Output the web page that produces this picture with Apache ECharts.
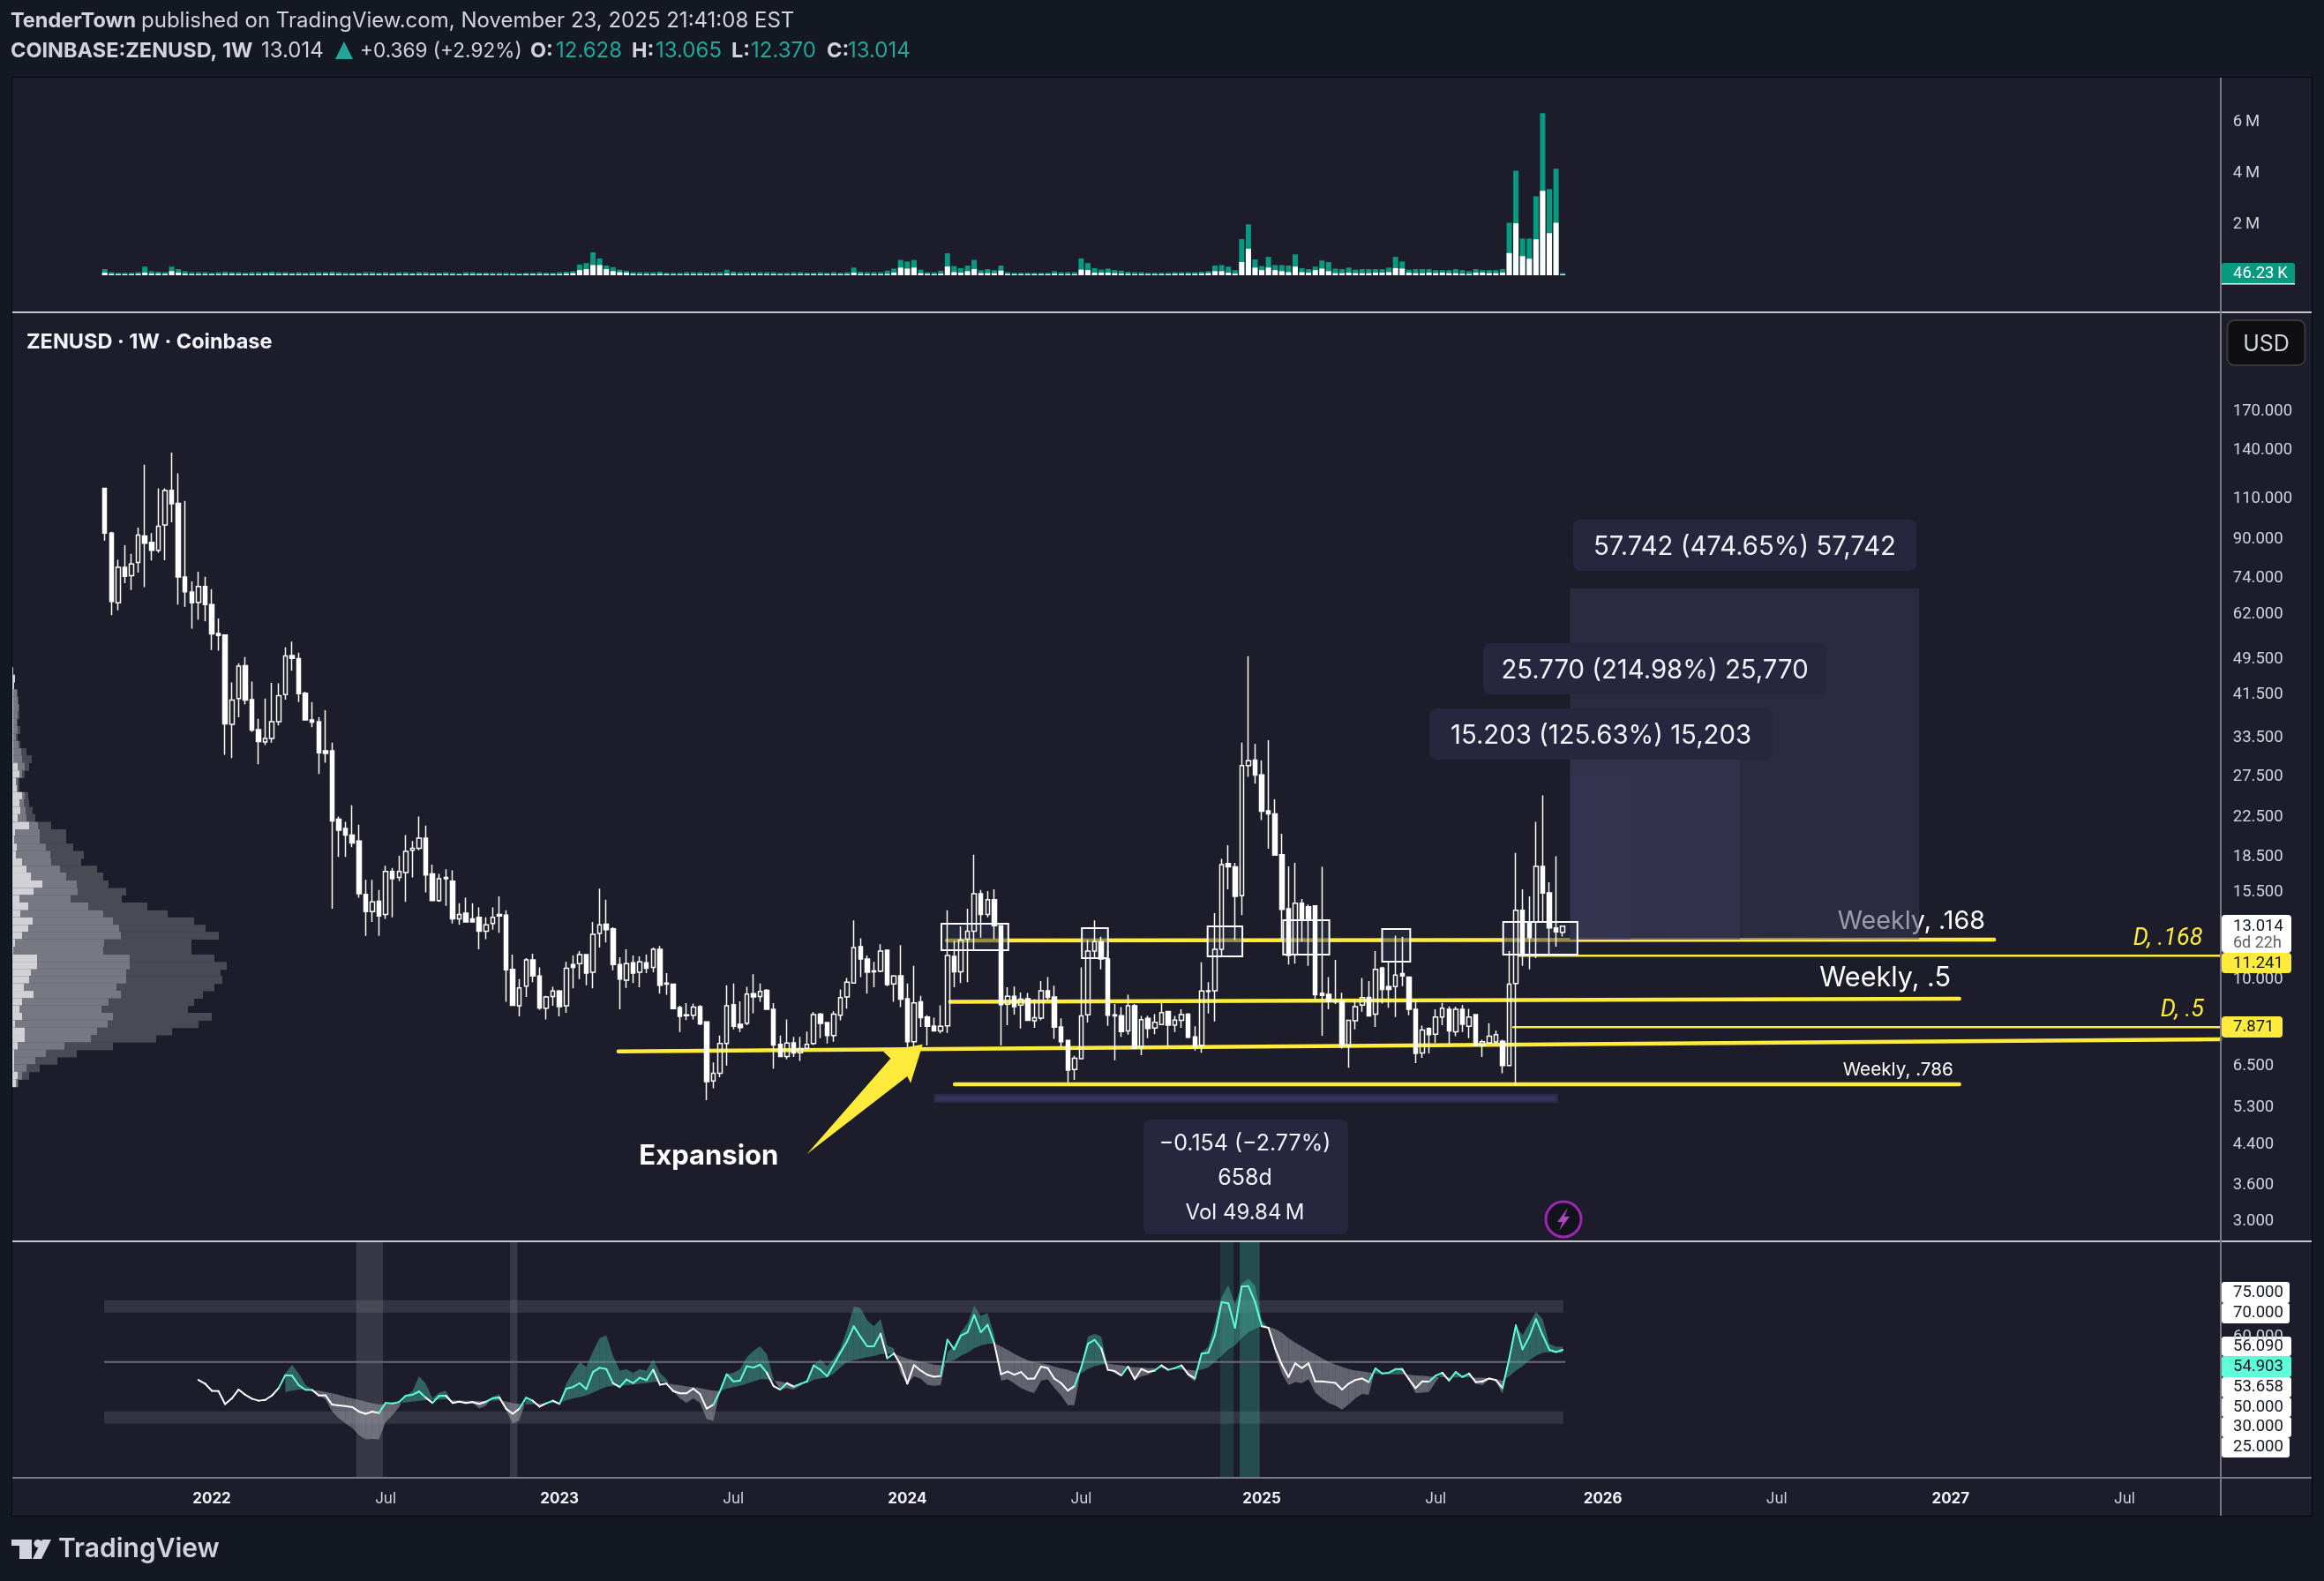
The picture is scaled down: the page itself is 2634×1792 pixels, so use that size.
<!DOCTYPE html>
<html>
<head>
<meta charset="utf-8">
<title>ZENUSD</title>
<style>
  html, body { margin: 0; padding: 0; background: #131823; }
  #chart { width: 2634px; height: 1792px; }
</style>
<script src="https://cdn.jsdelivr.net/npm/echarts@6/dist/echarts.min.js"></script>
</head>
<body>
<div id="chart"></div>
<script>
// weekly candles, index 0 is the first bar on the chart
var opens = [
  115.5,92.4,65.3,77.9,74.7,79.8,91.1,88.2,84.8,96.2,
  114.4,107.2,74.2,68.9,65.4,70.8,64.7,56,55.6,35.6,
  40.5,47.7,40.3,34.7,32.6,33.2,36.1,41.3,50.2,49.4,
  41.6,36.4,36.1,31.2,31.2,22.2,21.2,20.5,19.9,15.25,
  14,14.75,13.8,17.1,16.6,17,19,19.2,20.2,16.9,
  14.8,16.6,16.3,13.5,13.9,13.5,13.6,12.7,13.2,13.8,
  13.75,10.5,8.75,9.65,11,10.15,8.65,9.17,9.42,8.75,
  10.75,10.8,11.3,10.35,12.55,13.15,12.85,10.75,9.95,10.85,
  10.35,10.85,10.6,11.6,9.8,9.75,8.68,8.37,8.35,8.72,
  8.08,6.02,6.25,7.25,8.8,7.98,8.03,9.3,9.17,9.45,
  8.6,7.22,6.8,7.28,6.93,7.08,7.25,8.4,8.05,7.55,
  8.35,9.15,9.8,11.75,11.05,10.42,10.4,11.55,9.76,10.17,
  9.07,7.32,8.93,8.28,7.91,7.72,7.92,11.2,10.37,12.2,
  12.7,15.3,13.8,14.85,13.05,8.82,9.18,8.78,9.07,8.12,
  8.23,9.43,9.15,7.88,7.37,6.37,6.72,8.37,11.5,12.05,
  11.05,8.37,8.33,7.72,8.75,7.12,8.22,7.83,7.97,8.51,
  7.95,8.14,8.4,7.5,7.18,9.43,9.43,11.6,17.8,17.5,
  15.15,29,29.8,27.7,23.15,22.8,18.6,14.2,11.3,14.6,
  14.35,14.4,9.32,9.27,8.98,8.95,7.17,8.12,8.78,9.13,
  8.4,10.57,9.63,9.63,10.28,10.1,8.6,6.92,7.82,7.6,
  8.28,8.6,7.69,8.6,7.9,8.38,7.18,7.28,7.31,7.33,
  6.5,9.78,14.1,13.3,13.3,17.55,15.37,12.9,12.628
];
var highs = [
  115.5,93,80.9,87,83.3,95,130,92.4,115.5,115.5,
  138,124.5,108.5,72.6,76.2,74.3,69.9,60.4,55.6,43.9,
  48.3,49.8,44.1,36.6,40.5,43.8,43.7,52.3,53.8,50.9,
  41.9,39.8,36.9,38.2,32.5,22.5,21.9,23.8,21.6,16.4,
  16.4,15.6,17.6,17.4,18.5,20.5,19.9,22.5,21.5,17.7,
  16.9,17.3,17.2,14.6,15,14.6,14.3,13.6,14.3,15.1,
  14.1,11.3,10,11.1,11.35,10.6,9.2,9.62,9.48,10.9,
  11.25,11.5,11.3,13.3,15.7,14.85,12.95,11.15,11.6,11.25,
  11.2,11.3,11.7,11.8,10.3,9.78,8.75,8.87,8.85,8.78,
  8.08,6.6,7.55,9.7,9.78,8.95,9.62,10.25,9.78,9.52,
  8.87,7.55,8.18,7.5,7.5,7.7,8.49,8.45,8.08,8.52,
  9.5,10.05,13.4,12.25,11.25,10.9,11.9,11.6,10.2,11.85,
  9.78,10.68,9.2,8.35,8.25,8.77,14.1,12.1,13,14.2,
  18.6,15.6,15.5,15.65,13.05,9.6,9.63,9.35,9.33,9.05,
  9.9,10.1,9.68,8.22,7.39,6.82,10.6,12.15,13.4,12.35,
  11.5,8.83,8.7,9.25,8.83,8.32,8.33,8.4,8.87,8.54,
  8.32,8.6,8.44,7.9,10.87,9.85,13.9,18.2,19.5,17.85,
  32.5,50,32.3,29.75,32.9,24.5,20.65,17.55,17.85,14.9,
  14.5,14.4,17.5,10.1,11,9.34,8.16,9.02,10.05,9.9,
  11.5,10.63,10.9,12.42,12.35,10.1,9.02,7.93,7.86,8.6,
  8.88,8.73,8.72,8.78,8.62,8.4,7.39,8.03,7.73,7.39,
  11.5,18.75,15.65,15.1,21.9,25,16.2,18.45,13.065
];
var lows = [
  89,61.4,62.9,72,69.6,75.9,70.6,80.6,83.8,80.7,
  97.5,64.7,64,57.4,60,59.5,51.6,51.4,30.6,30.1,
  36.9,39.3,34.3,29.2,32.1,32.5,35.4,40.3,46.5,39.8,
  36.4,35.1,27.8,29.4,14.2,18.4,18.4,19.3,15,12.4,
  13.3,12.4,13.5,13.6,16.3,14.7,16.6,19,15.4,14.8,
  14.7,14.4,13.2,13.1,13.3,13.3,11.6,12.2,12.8,12.6,
  8.93,8.77,8.3,9.15,9.85,8.58,8.18,8.75,8.3,8.45,
  9.55,10,9.7,9.55,11.7,12,10.45,8.6,9.57,9.8,
  9.6,10.3,10.35,9.3,9.25,8.63,7.68,8.15,8.18,7.95,
  5.47,5.8,6.13,6.5,7.78,7.68,7.95,8.43,8.93,8.58,
  6.4,6.8,6.7,6.78,6.65,7.05,7.2,7.45,7.25,7.32,
  8.14,8.63,9.78,10.1,9.3,9.6,10.35,9.65,8.93,8.7,
  6.87,6.67,7.88,7.18,7.72,7.63,7.65,9.6,9.8,9.85,
  11.6,12.3,13.6,12.2,7.18,7.95,8.38,7.82,8.14,7.84,
  8.14,9.02,7.42,7.1,5.98,6.05,6.7,8.05,11.05,10.5,
  7.92,6.67,7.5,7.58,7.07,6.84,7.45,7.6,7.95,7.12,
  7.68,7.84,7.45,7,6.93,8.42,8.1,11.15,15.65,12.15,
  13.75,27.4,26.5,22.1,19.15,18.5,12.2,10.75,10.8,12.05,
  10.68,9,7.54,8.6,8.83,7.07,6.43,7.78,8.5,8.3,
  7.88,8.85,8.67,8.28,9.65,8.35,6.58,6.75,6.9,7.28,
  7.95,7.24,7.52,7.68,7.45,7.18,6.78,7.27,7.18,6.25,
  6.5,5.89,10.68,10.5,11.1,13.3,11.25,11.75,12.37
];
var closes = [
  92.4,65.7,77.9,74.5,79.2,91.5,87.8,84.8,95.6,114.2,
  107,74.2,69,65.3,70.8,64.7,55.9,55.5,35.7,40.2,
  47.6,40.2,34.6,32.7,33.2,36.1,41.1,50.1,49.5,41.5,
  36.4,36,30.9,30.8,22,21,20.5,19.7,15.3,14,
  14.7,13.7,17.1,16.5,17.1,18.9,19.2,20.2,16.8,14.8,
  16.5,16.5,13.5,13.8,13.3,13.3,12.7,13.1,13.6,13.7,
  10.47,8.77,9.57,11,10.15,8.66,9.15,9.42,8.72,10.55,
  10.6,11.3,10.3,12.5,13.1,12.8,10.75,10,10.8,10.3,
  10.9,10.55,11.6,9.7,9.75,8.63,8.3,8.33,8.7,8,
  6,6.25,7.25,8.75,7.9,7.85,9.28,9.15,9.4,8.6,
  7.2,6.8,7.27,6.92,7.07,7.22,8.38,8.02,7.55,8.4,
  9.12,9.85,11.7,11.05,10.35,10.37,11.5,9.73,10.15,9.05,
  7.32,8.88,8.25,7.9,7.72,7.9,11.25,10.37,12.15,12.7,
  15.3,13.8,14.85,13.05,8.8,9.18,8.72,9.05,8.14,8.25,
  9.43,9.13,7.87,7.32,6.35,6.74,8.32,11.5,12.05,11.05,
  8.35,8.32,7.7,8.75,7.08,8.17,7.82,8.06,8.46,7.95,
  8.15,8.38,7.48,7.13,9.42,9.4,11.6,17.7,17.5,15.1,
  29,29.7,27.65,23.1,22.8,18.55,14.15,11.25,14.6,13.45,
  13.45,9.25,9.22,8.95,8.93,7.18,8.14,8.72,9.12,8.32,
  10.5,9.5,9.5,10.2,10.15,8.6,6.9,7.76,7.58,8.28,
  8.65,7.72,8.6,7.98,8.28,7.19,7.32,7.52,7.58,6.5,
  9.75,14.1,11.25,12.3,17.55,15.35,12.9,12.65,13.014
];

// volume in millions, whole bar and its white lower part
var volTotal = [
  .24,.12,.10,.10,.10,.12,.34,.16,.14,.12,
  .34,.24,.16,.12,.12,.12,.10,.12,.14,.12,
  .12,.10,.12,.12,.12,.14,.12,.12,.10,.12,
  .10,.12,.12,.12,.14,.12,.10,.10,.10,.12,
  .12,.10,.12,.10,.12,.12,.10,.12,.12,.10,
  .10,.12,.10,.08,.12,.12,.10,.10,.10,.10,
  .10,.10,.08,.10,.10,.12,.10,.10,.12,.14,
  .16,.42,.48,.90,.66,.38,.32,.22,.18,.12,
  .12,.12,.12,.14,.10,.10,.10,.12,.12,.12,
  .10,.12,.12,.22,.14,.12,.12,.12,.12,.12,
  .12,.10,.10,.12,.12,.10,.10,.12,.10,.12,
  .10,.12,.30,.14,.12,.12,.12,.18,.26,.60,
  .54,.60,.22,.12,.12,.18,.86,.36,.28,.38,
  .60,.20,.24,.20,.38,.12,.10,.10,.10,.10,
  .10,.10,.16,.12,.12,.12,.66,.48,.28,.22,
  .26,.20,.18,.14,.12,.12,.10,.10,.10,.10,
  .12,.12,.12,.12,.14,.16,.38,.40,.34,.20,
  1.42,2.00,.62,.36,.72,.40,.40,.38,.82,.28,
  .24,.34,.58,.52,.26,.24,.30,.22,.24,.24,
  .24,.24,.30,.72,.54,.22,.24,.24,.24,.20,
  .20,.20,.24,.20,.16,.24,.20,.20,.20,.24,
  2.06,4.10,1.44,1.44,3.10,6.36,3.38,4.18,.09
];
var volWhite = [
  .10,.05,.04,.04,.04,.05,.10,.06,.06,.05,
  .16,.10,.06,.04,.04,.04,.04,.04,.05,.05,
  .04,.04,.04,.04,.05,.05,.04,.05,.04,.04,
  .04,.04,.04,.05,.05,.04,.03,.04,.04,.04,
  .04,.04,.04,.04,.04,.04,.04,.04,.04,.04,
  .04,.04,.03,.03,.04,.04,.04,.04,.03,.03,
  .03,.03,.03,.04,.04,.04,.04,.04,.04,.06,
  .08,.20,.24,.40,.40,.24,.16,.12,.10,.05,
  .04,.04,.04,.05,.04,.03,.03,.04,.04,.04,
  .04,.04,.04,.06,.05,.04,.04,.05,.04,.04,
  .04,.03,.03,.04,.04,.04,.04,.04,.04,.04,
  .04,.04,.10,.05,.04,.04,.04,.05,.10,.30,
  .26,.30,.08,.05,.04,.06,.34,.12,.10,.16,
  .24,.08,.08,.08,.18,.05,.04,.04,.04,.04,
  .04,.04,.06,.04,.04,.04,.22,.20,.10,.10,
  .10,.08,.06,.05,.04,.04,.04,.04,.04,.04,
  .05,.05,.05,.05,.06,.08,.16,.16,.10,.06,
  .52,1.04,.30,.20,.30,.20,.16,.12,.34,.12,
  .10,.20,.26,.16,.08,.08,.10,.08,.08,.08,
  .10,.10,.12,.28,.26,.10,.08,.08,.10,.08,
  .10,.08,.08,.06,.05,.10,.10,.08,.08,.10,
  .87,2.04,.75,.65,1.41,3.31,1.65,2.06,.03
];

// lower pane: rsi from bar 14, its average and outer edge from bar 27
var rsiStart = 14;
var rsiValues = [
  42.7,41.2,38.3,38.2,32.9,35.2,38.8,36.7,35.1,34.3,
  34.6,36.4,39.4,44.6,44.4,40.6,38.7,38.6,36.4,36.5,
  32.7,32.4,32.1,31.7,29.9,29,29.9,29.3,33.4,33.2,
  33.7,36.3,36.7,38,35.5,33.4,36.2,36.3,33.4,33.9,
  33.4,33.7,33,33.9,35.3,35.6,31.1,29,31.1,35.5,
  34.3,31.9,33.2,34.3,33,39.2,39.8,41.4,39,45.9,
  47.6,47.1,41.4,39.8,42.9,41.4,43.6,42.6,46.8,40.8,
  41.2,38.2,37.3,37.3,39.2,37,
  31.1,32.7,38.2,45,42.1,42.4,48.3,47.7,48.9,45.6,
  40.2,38.8,41.4,40,41.1,42.1,48.6,46.8,44.2,48.9,
  53.7,58.4,64.4,60.2,56.3,56.3,61.4,51.5,53.4,48.9,
  41.2,48.7,46.5,44.8,44,44.3,59,55.1,60.6,62,
  68.9,62,65,57.5,45,46.1,44.8,45.9,43.2,43.3,
  48.1,47.5,43.2,41.4,38.4,40.2,47.7,57.3,58.9,55.5,
  46.8,46.3,44.5,48.1,43,47.1,45.9,46.5,48.6,46.8,
  47.5,48.6,45,43.3,53.4,53.7,60.8,74.2,73.7,63.8,
  80.5,80.7,74.2,64.4,63.8,55.5,48.9,43.9,49.4,47.5,
  49.4,42.1,42.1,41.8,41.5,38.8,41.2,42.7,43.3,41.8,
  47.4,45.3,45.6,47.1,47,43,39.4,42.1,42,44.4,
  45.6,42.4,45.9,43.9,45.3,41.8,42.1,43.3,42.7,39.4,
  51.3,64.8,55.1,60.2,67.3,60.8,54.9,54,54.903
];
var maStart = 27;
var maValues = [
  37.8,38.4,38.8,38.7,38.6,38.4,37.8,37.3,36.7,35.9,35.2,34.6,33.9,33.3,32.8,
  32.8,33,33.2,33.6,33.9,34.3,34.5,34.6,34.7,34.9,34.5,34.4,34.3,34.3,34.2,
  34.2,34.3,34.4,34,33.4,33,32.8,32.8,33.1,33.3,33.4,33.4,34.4,35.2,35.8,
  36.4,37.6,38.8,40,40.2,40.3,40.6,40.8,41.2,41.4,41.8,42,41.5,40.9,40.6,
  40.1,39.8,39.4,38.8,38.4,38.2,39.2,39.8,40.3,41.2,42.1,43,43,42.4,42.1,
  41.4,40.6,40.9,41.4,42.7,43.3,43.7,45.3,47.7,50.1,50.7,51.3,51.9,52.4,53.2,
  53.3,53.4,52.3,51.3,50.7,50.1,49.5,48.9,48.6,50.1,50.7,52.5,53.7,55.5,56.7,
  57.3,57.5,56.3,54.9,53.3,51.9,50.7,49.9,49.4,48.9,48.1,47.4,46.8,45.9,45.3,
  47.1,48.3,48.9,49.3,48.9,48.6,48.1,47.8,47.7,47.5,47.5,47.4,47.1,47,46.9,
  46.8,46.5,46.8,47.7,50.1,52.5,55.1,56.7,59.6,62,63.4,64.4,64.2,63.4,61.8,
  59.6,57.8,56.3,54.6,53.1,51.5,50.1,48.9,48,47.1,46.5,46.2,45.8,45.3,45.1,
  45,44.9,45,44.8,44.5,44.4,44.2,43.9,43.8,43.7,43.7,43.7,43.7,43.6,43.6,
  43.4,43,42.4,44.2,46.5,48.3,50.7,52.5,53.7,53.9,53.8,53.658
];
var edgeValues = [
  45.3,48.8,45.3,40.8,38.8,36.4,34.9,29.9,27.2,25.1,23.3,20.3,18.6,18.8,18.6,
  25.7,28.4,31.7,36.3,38.2,44.2,41.2,35.2,37.6,38.4,33.4,33.9,33.4,33.4,31.1,
  32.3,35.8,37,30.5,25.1,26.3,34.6,34.3,31.7,33.2,34.6,33,41.2,45.9,49.9,
  48,54.3,59.6,60.8,52.5,46.5,47,45.6,47,46.5,51,45.6,43,38.2,35.2,
  33.4,35.2,33.4,26.9,26.1,38.2,45.1,45.6,47.1,51.9,54.5,56.4,53.1,43,38.8,
  39.4,38.8,40.3,41.8,48.9,51,48.3,51.3,55.5,63.2,72.4,71.8,66.8,64.4,67.4,
  56.7,55.5,45.3,41.2,44.2,43.2,40.8,40.3,40.6,53.7,56.7,62,65.6,72.7,68.6,
  69.8,60.8,42.4,43,41.2,39.4,38.2,37.4,42.4,43,39.4,36.4,32.5,32.6,47.7,
  60.2,61.4,60.2,47.7,45.3,44.2,48,42.7,44.2,44.8,46.3,48.6,46.8,47.5,48.6,
  44.2,42.1,53.7,56.1,65.6,76.3,81,73.3,81.7,83.7,81,66.8,63.8,53.7,45.3,
  40.6,41.8,41.4,43,37.6,35.2,33.4,32.3,30.7,32.8,35.2,37,36.7,47.4,45.3,
  45.6,47.1,48,42.4,37.3,37.6,37.8,41.8,45.6,42.4,45.3,43.6,45.3,41.2,40.6,
  43,42,37,52.5,64.4,60.8,65.6,70.3,67.4,57.3,56.1,56.09
];

// volume profile on the left: bin top price, then the three cumulative widths
var profileTops = [
  47.3,45.6,44,42.4,40.9,39.4,38,36.6,35.3,34,32.8,31.6,30.5,29.4,28.3,27.3,26.3,25.4,24.5,
  23.6,22.75,21.9,21.1,20.4,19.65,18.95,18.25,17.6,17,16.35,15.75,15.2,14.65,14.1,13.6,13.1,12.65,12.2,
  11.75,11.3,10.9,10.5,10.15,9.78,9.43,9.09,8.76,8.45,8.14,7.85,7.57,7.3,7.03,6.78,6.54,6.3,6.07
];
var profileBottom = 5.85;
var profileLight = [
  1,3,2,1,1,1,1,1,1,1,1,1,1,6,8,4,5,11,8,
  9,6,19,3,2,5,4,11,16,21,34,24,8,18,9,23,18,11,3,
  1,28,28,21,19,13,24,11,8,11,3,14,14,6,2,2,2,6,4
];
var profileMid = [
  1,3,2,5,6,7,6,5,6,4,7,10,11,14,11,6,6,14,13,
  15,16,29,31,31,38,43,44,54,61,73,74,66,86,103,114,121,123,104,
  103,133,133,129,129,118,123,109,101,114,108,96,89,59,38,26,16,11,6
];
var profileDark = [
  1,3,2,6,7,8,8,6,9,6,9,16,22,19,14,8,8,18,19,
  23,26,44,61,61,69,81,78,96,103,109,129,124,153,176,206,219,234,203,
  203,229,243,236,238,229,216,206,199,226,211,181,163,114,73,51,31,19,7
];

// axis ticks
var priceTicks = [170,140,110,90,74,62,49.5,41.5,33.5,27.5,22.5,18.5,15.5,10,6.5,5.3,4.4,3.6,3];
var volumeTicks = [2,4,6];
var timeTickWeeks = [29,55,81,107,133,159,186,212,237,263,289,315];
var timeTickNames = ['2022','Jul','2023','Jul','2024','Jul','2025','Jul','2026','Jul','2027','Jul'];

// drawings, all in [bar, price]
var levelLines = [
  [76.8,6.97,316.3,7.41,4.5],
  [125.9,12.12,282.5,12.17,4.5],
  [126.4,8.93,277.3,9.07,4.5],
  [127.1,5.92,277.3,5.92,4.5],
  [211.5,11.241,316.4,11.241,2.5],
  [210.6,7.871,316.4,7.871,2.5]
];
var positionBoxes = [
  [219.1,70.1,271.3,12.17],
  [219.1,37.9,244.5,12.17],
  [219.1,27.4,228.1,12.17]
];
var whiteBoxes = [
  [125.1,13.18,135.1,11.55],
  [146.1,12.89,150,11.1],
  [164.9,13,170.1,11.2],
  [176.2,13.41,183.1,11.3],
  [191,12.84,195.2,10.91],
  [209.1,13.29,220.2,11.3]
];
var rangeBar = [[124.1,5.62,217.2,5.42]];
var arrowOutline = [[105,4.18],[117.5,6.73],[116.4,6.97],[122.3,7.22],[120.5,5.95],[120,6.16]];
var levelTexts = ['Weekly, .168','Weekly, .5','Weekly, .786','D, .168','D, .5','Expansion'];
var levelTextSpots = [[259.1,13.32],[256.4,10.03],[259.9,6.35],[303.3,12.23],[307.4,8.56],[79.9,4.13]];
var levelTextFonts = ['28.7px Inter','30.6px Inter','20.7px Inter','italic 27px Roboto','italic 27px Roboto','bold 31px Inter'];
var levelTextColors = ['#ffffff','#ffffff','#ffffff','#ffeb3b','#ffeb3b','#ffffff'];

// lower pane bands, [bar, top, bar, bottom]
var rsiBandRows = [[-0.1,75,218.1,70],[-0.1,30,218.1,25]];
var rsiGrayColumns = [[37.6,98.8,41.6,3.1],[60.6,98.8,61.7,3.1]];
var rsiTealColumns = [[166.8,98.8,168.8,3.1,0.18],[169.7,98.8,172.7,3.1,0.3]];
var rsiTags = ['75.000','70.000','56.090','54.903','53.658','50.000','30.000','25.000'];

var GRID_LEFT = 16.4, GRID_WIDTH = 2501.4;
var WEEKS = 330, FIRST_BAR = 13;
var YELLOW = '#ffeb3b', TEAL = '#089981', AQUA = '#5fffd9', PANE = '#1c1c2a', OUTSIDE = '#131823';
var FONT = 'Inter', SCALE_FONT = 'Roboto';

var weeks = [];
for (var w = 0; w < WEEKS; w++) {
  weeks.push(String(w - FIRST_BAR));
}

function renderLine(params, api) {
  var a = api.coord([api.value(0), api.value(1)]);
  var b = api.coord([api.value(2), api.value(3)]);
  return {
    type: 'line',
    shape: {x1: a[0], y1: a[1], x2: b[0], y2: b[1]},
    style: {stroke: YELLOW, lineWidth: api.value(4), lineCap: 'round'}
  };
}

function boxRenderer(fill, stroke) {
  return function(params, api) {
    var a = api.coord([api.value(0), api.value(1)]);
    var b = api.coord([api.value(2), api.value(3)]);
    var opacity = api.value(4);
    return {
      type: 'rect',
      shape: {x: a[0], y: a[1], width: b[0] - a[0], height: b[1] - a[1]},
      style: {
        fill: opacity > 0 ? 'rgba(60,190,165,' + opacity + ')' : fill,
        stroke: stroke,
        lineWidth: stroke ? 2 : 0
      }
    };
  };
}

function renderProfile(params, api) {
  var k = params.dataIndex;
  var next = k + 1 < profileTops.length ? profileTops[k + 1] : profileBottom;
  var top = api.coord([0, profileTops[k]]);
  var bottom = api.coord([0, next]);
  var bars = [[profileDark[k], '#4a4a54'], [profileMid[k], '#787882'], [profileLight[k], '#d2d2d6']];
  return {
    type: 'group',
    children: bars.map(function(bar) {
      return {
        type: 'rect',
        shape: {x: top[0], y: top[1], width: api.coord([bar[0], profileTops[k]])[0] - top[0], height: bottom[1] - top[1] + 0.5},
        style: {fill: bar[1]}
      };
    })
  };
}

function renderPriceTick(params, api) {
  var y = api.coord([0, api.value(1)])[1];
  return {
    type: 'text',
    x: params.coordSys.x + params.coordSys.width + 13,
    y: y + 1,
    style: {text: priceTicks[params.dataIndex].toFixed(3), font: '18.5px ' + SCALE_FONT, fill: '#d1d4dc', align: 'left', verticalAlign: 'middle'}
  };
}

function renderLevelText(params, api) {
  var p = api.coord([api.value(0), api.value(1)]);
  var k = params.dataIndex;
  return {
    type: 'text',
    x: p[0],
    y: p[1],
    style: {text: levelTexts[k], font: levelTextFonts[k], fill: levelTextColors[k], align: 'left', verticalAlign: 'middle'}
  };
}

function renderArrow(params, api) {
  return {
    type: 'polygon',
    shape: {points: arrowOutline.map(function(p) { return api.coord(p); })},
    style: {fill: YELLOW}
  };
}

// band between the average and the outer edge, split where the two cross
function renderRsiFill(params, api) {
  var k = params.dataIndex;
  if (k + 1 >= maValues.length) {
    return;
  }
  var x0 = maStart + k, x1 = x0 + 1;
  var m0 = maValues[k], m1 = maValues[k + 1], e0 = edgeValues[k], e1 = edgeValues[k + 1];
  var d0 = e0 - m0, d1 = e1 - m1;
  function piece(xa, ma, ea, xb, mb, eb, up) {
    return {
      type: 'polygon',
      shape: {points: [api.coord([xa, ma]), api.coord([xb, mb]), api.coord([xb, eb]), api.coord([xa, ea])]},
      style: {fill: up ? 'rgba(70,172,150,0.5)' : 'rgba(158,158,168,0.55)'}
    };
  }
  var children;
  if (d0 * d1 < 0) {
    var t = d0 / (d0 - d1);
    var xc = x0 + t, mc = m0 + (m1 - m0) * t;
    children = [piece(x0, m0, e0, xc, mc, mc, d0 > 0), piece(xc, mc, mc, x1, m1, e1, d1 > 0)];
  } else {
    children = [piece(x0, m0, e0, x1, m1, e1, d0 + d1 > 0)];
  }
  return {type: 'group', children: children};
}

function renderRsiLine(params, api) {
  var k = params.dataIndex;
  if (k + 1 >= rsiValues.length) {
    return;
  }
  var x0 = rsiStart + k;
  var a = api.coord([x0, rsiValues[k]]);
  var b = api.coord([x0 + 1, rsiValues[k + 1]]);
  var maIndex = x0 + 1 - maStart;
  var up = maIndex >= 0 && rsiValues[k + 1] >= maValues[maIndex];
  return {
    type: 'line',
    shape: {x1: a[0], y1: a[1], x2: b[0], y2: b[1]},
    style: {stroke: up ? AQUA : '#ffffff', lineWidth: 2, lineCap: 'round'}
  };
}

function customSeries(xAxis, yAxis, z, data, renderItem) {
  return {
    type: 'custom',
    xAxisIndex: xAxis,
    yAxisIndex: yAxis,
    z: z,
    silent: true,
    clip: false,
    data: data,
    renderItem: renderItem
  };
}

// chrome helpers for everything that is not tied to an axis
function text(x, y, str, font, fill, align, z) {
  return {
    type: 'text',
    x: x,
    y: y,
    z: z || 30,
    silent: true,
    style: {text: str, font: font, fill: fill, textAlign: align || 'left', textVerticalAlign: 'middle'}
  };
}
function rect(x, y, w, h, fill, r, z, stroke) {
  return {
    type: 'rect',
    z: z || 29,
    silent: true,
    shape: {x: x, y: y, width: w, height: h, r: r || 0},
    style: {fill: fill, stroke: stroke || null, lineWidth: stroke ? 2 : 0}
  };
}
function rule(x1, y1, x2, y2, color, width) {
  return {
    type: 'line',
    z: 28,
    silent: true,
    shape: {x1: x1, y1: y1, x2: x2, y2: y2},
    style: {stroke: color, lineWidth: width}
  };
}

var HEAD = '24px ' + FONT, HEAD_BOLD = 'bold 23.5px ' + FONT, CHIP = '29.3px ' + FONT, TAG = '18.5px ' + SCALE_FONT;
var GREY = '#d1d4dc', HEAD_TEAL = '#26a69a';

var chrome = [
  // the chart background is the pane colour, the margins go over it
  rect(0, 0, 2634, 87, OUTSIDE),
  rect(0, 1719, 2634, 73, OUTSIDE),
  rect(0, 0, 13, 1792, OUTSIDE),
  rect(2621, 0, 13, 1792, OUTSIDE),
  rule(13, 87, 2621, 87, '#05060a', 2),
  rule(13, 1719, 2621, 1719, '#05060a', 2),
  rule(13, 87, 13, 1719, '#05060a', 2),
  rule(2621, 87, 2621, 1719, '#05060a', 2),

  rule(14, 354, 2620, 354, '#c6c6c8', 2),
  rule(14, 1407, 2620, 1407, '#c6c6c8', 2),
  rule(14, 1675, 2620, 1675, '#787b86', 2),
  rule(2517, 88, 2517, 1718, '#787b86', 2),

  text(12, 24, 'TenderTown', HEAD_BOLD, GREY),
  text(160, 24, 'published on TradingView.com, November 23, 2025 21:41:08 EST', HEAD, GREY),
  text(12, 58, 'COINBASE:ZENUSD, 1W', HEAD_BOLD, GREY),
  text(296, 58, '13.014', HEAD, GREY),
  {type: 'polygon', z: 30, silent: true, shape: {points: [[390, 47], [400, 67], [380, 67]]}, style: {fill: HEAD_TEAL}},
  text(408, 58, '+0.369 (+2.92%)', '22.6px ' + FONT, GREY),
  text(601, 58, 'O:', HEAD_BOLD, GREY),
  text(630, 58, '12.628', HEAD, HEAD_TEAL),
  text(716, 58, 'H:', HEAD_BOLD, GREY),
  text(743, 58, '13.065', HEAD, HEAD_TEAL),
  text(829, 58, 'L:', HEAD_BOLD, GREY),
  text(851, 58, '12.370', HEAD, HEAD_TEAL),
  text(937, 58, 'C:', HEAD_BOLD, GREY),
  text(961, 58, '13.014', HEAD, HEAD_TEAL),

  text(30, 388, 'ZENUSD \u00b7 1W \u00b7 Coinbase', 'bold 23.5px ' + FONT, '#f0f3fa'),

  rect(2524.5, 363, 88, 51, '#0f0f11', 8, 29, '#37373c'),
  text(2568.5, 390, 'USD', '25px ' + FONT, GREY, 'center'),

  rect(2518, 298, 83, 24, TEAL, 3),
  rect(2518, 321, 83, 1.5, '#ffffff'),
  text(2531, 310, '46.23\u2009K', TAG, '#ffffff'),

  // price scale tags
  rect(2518, 1037, 79, 43, '#ffffff', 4),
  text(2531, 1050, '13.014', TAG, '#131722'),
  text(2531, 1069, '6d 22h', '18px ' + SCALE_FONT, '#5d606b'),
  rect(2518, 1080, 79, 23, YELLOW, 4),
  text(2531, 1092, '11.241', TAG, '#131722'),
  rect(2518, 1152, 69, 24, YELLOW, 4),
  text(2531, 1164, '7.871', TAG, '#131722'),

  // position labels
  rect(1783, 589, 389, 58, '#26263f', 8),
  text(1977.5, 620, '57.742 (474.65%) 57,742', CHIP, '#f0f3fa', 'center'),
  rect(1681, 729, 389, 58, '#26263f', 8),
  text(1875.5, 760, '25.770 (214.98%) 25,770', CHIP, '#f0f3fa', 'center'),
  rect(1620, 803, 389, 58, '#26263f', 8),
  text(1814.5, 834, '15.203 (125.63%) 15,203', CHIP, '#f0f3fa', 'center'),

  // measure label
  rect(1296, 1269, 232, 130, '#26263f', 8),
  text(1411, 1296, '\u22120.154 (\u22122.77%)', '25px ' + FONT, '#f0f3fa', 'center'),
  text(1411, 1335, '658d', '25px ' + FONT, '#f0f3fa', 'center'),
  text(1411, 1375, 'Vol 49.84\u2009M', '24px ' + FONT, '#f0f3fa', 'center'),

  // lightning badge
  {type: 'circle', z: 30, silent: true, shape: {cx: 1772, cy: 1382, r: 20}, style: {fill: '#12121a', stroke: '#9c27b0', lineWidth: 3}},
  {type: 'polygon', z: 31, silent: true, shape: {points: [[1777, 1369], [1765, 1385], [1771, 1385], [1767, 1395], [1779, 1379], [1773, 1379]]}, style: {fill: '#ab47bc'}},

  // logo
  rect(13, 1745, 23, 7, GREY, 0),
  rect(22, 1752, 14, 15, GREY, 0),
  {type: 'circle', z: 30, silent: true, shape: {cx: 43, cy: 1749.5, r: 4.5}, style: {fill: GREY}},
  {type: 'polygon', z: 30, silent: true, shape: {points: [[48, 1745], [58, 1745], [47, 1767], [37, 1767]]}, style: {fill: GREY}},
  text(66, 1756, 'TradingView', '600 30px ' + FONT, GREY)
];

// lower pane scale tags
var rsiTagTops = [1453, 1477, 1515, 1537, 1561, 1584, 1606, 1629];
var rsiTagBottoms = [1477, 1500, 1537, 1561, 1584, 1606, 1629, 1652];
chrome.push(text(2531, 1515, '60.000', TAG, GREY));
rsiTags.forEach(function(label, k) {
  var wide = k >= 2 && k <= 6;
  chrome.push(rect(2518, rsiTagTops[k], wide ? 79 : 77, rsiTagBottoms[k] - rsiTagTops[k], k === 3 ? AQUA : '#ffffff', 3));
  chrome.push(text(2531, (rsiTagTops[k] + rsiTagBottoms[k]) / 2, label, TAG, '#131722'));
});

var candleData = opens.map(function(o, i) {
  return [FIRST_BAR + i, o, closes[i], lows[i], highs[i]];
});
function onWeeks(values) {
  return values.map(function(v, i) { return [FIRST_BAR + i, v]; });
}

var chart = echarts.init(document.getElementById('chart'), null, {renderer: 'canvas'});
chart.setOption({
  animation: false,
  backgroundColor: PANE,
  graphic: {elements: chrome},
  grid: [
    {left: GRID_LEFT, width: GRID_WIDTH, top: 87, height: 267},
    {left: GRID_LEFT, width: GRID_WIDTH, top: 354, height: 1053},
    {left: GRID_LEFT, width: GRID_WIDTH, top: 1407, height: 268}
  ],
  xAxis: [
    {type: 'category', gridIndex: 0, data: weeks, show: false},
    {type: 'category', gridIndex: 1, data: weeks, show: false},
    {
      type: 'category',
      gridIndex: 2,
      data: weeks,
      axisLine: {show: false},
      axisTick: {show: false},
      splitLine: {show: false},
      axisLabel: {
        margin: 15,
        color: GREY,
        fontFamily: FONT,
        fontSize: 17,
        interval: function(index) { return timeTickWeeks.indexOf(index) >= 0; },
        formatter: function(value, index) {
          var name = timeTickNames[timeTickWeeks.indexOf(index)];
          return name === 'Jul' ? name : '{year|' + name + '}';
        },
        rich: {year: {fontFamily: FONT, fontSize: 17, fontWeight: 'bold', color: '#f0f3fa'}}
      }
    },
    {type: 'value', gridIndex: 1, show: false, min: -13.5, max: 316.5},
    {type: 'value', gridIndex: 2, show: false, min: -13.5, max: 316.5},
    {type: 'value', gridIndex: 1, show: false, min: 2.4, max: 2503.8}
  ],
  yAxis: [
    {
      type: 'value',
      gridIndex: 0,
      position: 'right',
      min: -1.453,
      max: 7.785,
      axisLine: {show: false},
      axisTick: {show: false},
      splitLine: {show: false},
      axisLabel: {
        customValues: volumeTicks,
        margin: 13,
        color: GREY,
        fontFamily: SCALE_FONT,
        fontSize: 18.5,
        formatter: function(v) { return v + '\u2009M'; }
      }
    },
    {type: 'log', logBase: 10, gridIndex: 1, show: false, min: 2.705, max: 277.8},
    {type: 'value', gridIndex: 2, show: false, min: 3.1, max: 98.8}
  ],
  series: [
    {
      type: 'bar',
      xAxisIndex: 0,
      yAxisIndex: 0,
      barWidth: 6,
      barGap: '-100%',
      itemStyle: {color: TEAL},
      data: onWeeks(volTotal)
    },
    {
      type: 'bar',
      xAxisIndex: 0,
      yAxisIndex: 0,
      barWidth: 6,
      barGap: '-100%',
      itemStyle: {color: '#ffffff'},
      data: onWeeks(volWhite)
    },

    customSeries(3, 1, 2, levelLines, renderLine),
    customSeries(3, 1, 2, levelTextSpots, renderLevelText),
    customSeries(3, 1, 2, priceTicks.map(function(v) { return [0, v]; }), renderPriceTick),
    customSeries(5, 1, 2, profileTops.map(function(v) { return [0, v]; }), renderProfile),
    customSeries(3, 1, 3, positionBoxes, boxRenderer('rgba(56,56,86,0.5)')),
    customSeries(3, 1, 3, rangeBar, boxRenderer('#33335a', '#2a2a44')),
    customSeries(3, 1, 4, whiteBoxes, boxRenderer('rgba(42,46,70,0.5)', '#ffffff')),
    {
      type: 'candlestick',
      xAxisIndex: 1,
      yAxisIndex: 1,
      z: 5,
      barWidth: 5,
      encode: {x: 0, y: [1, 2, 3, 4]},
      itemStyle: {
        color: 'rgba(0,0,0,0)',
        color0: '#ffffff',
        borderColor: '#ffffff',
        borderColor0: '#ffffff',
        borderWidth: 1.5
      },
      data: candleData
    },
    customSeries(3, 1, 6, [arrowOutline[0]], renderArrow),

    customSeries(4, 2, 2, rsiBandRows, boxRenderer('rgba(120,123,134,0.25)')),
    customSeries(4, 2, 2, rsiGrayColumns, boxRenderer('rgba(120,123,134,0.3)')),
    customSeries(4, 2, 2, rsiTealColumns, boxRenderer('#000')),
    customSeries(4, 2, 2, [[-0.1, 50, 218.4, 50, 0]], function(params, api) {
      var a = api.coord([api.value(0), api.value(1)]);
      var b = api.coord([api.value(2), api.value(3)]);
      return {type: 'line', shape: {x1: a[0], y1: a[1], x2: b[0], y2: b[1]}, style: {stroke: '#6a6a74', lineWidth: 2}};
    }),
    customSeries(4, 2, 3, maValues.map(function(v, k) { return [maStart + k, v]; }), renderRsiFill),
    customSeries(4, 2, 4, rsiValues.map(function(v, k) { return [rsiStart + k, v]; }), renderRsiLine)
  ]
});
</script>
</body>
</html>
